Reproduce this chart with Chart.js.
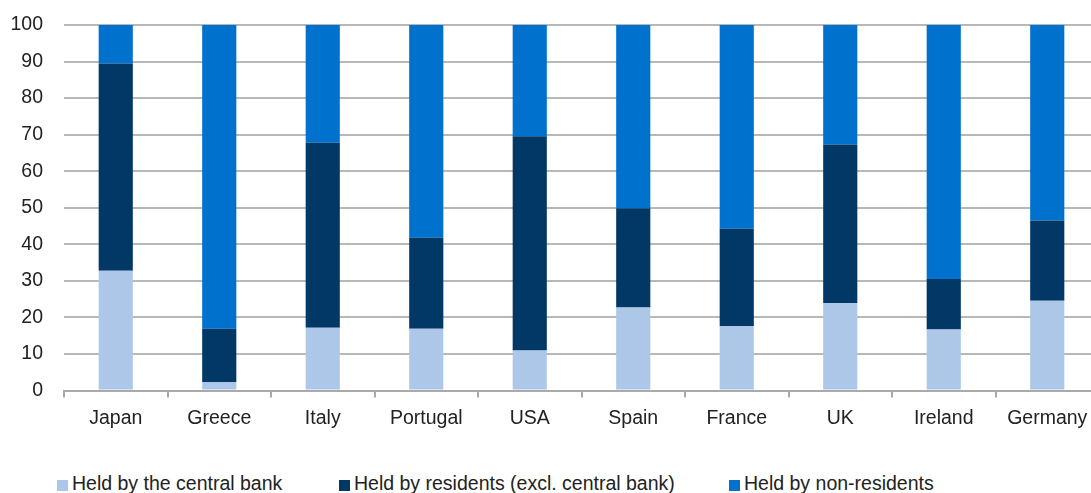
<!DOCTYPE html>
<html>
<head>
<meta charset="utf-8">
<script src="https://cdn.jsdelivr.net/npm/chart.js@4/dist/chart.umd.min.js"></script>
<style>
  html, body { margin: 0; padding: 0; background: #fff; overflow: hidden; }
  #page { position: relative; width: 1091px; height: 493px; overflow: hidden; }
  /* the plot runs a few pixels past the right edge in the original */
  #wrap { position: absolute; left: 0; top: 0; width: 1099px; height: 439px; }
  #legend { position: absolute; left: 0; top: 472px; width: 1091px; height: 22px;
            font-family: "Liberation Sans", Arial, sans-serif; font-size: 19.5px; color: #222; }
  .item { position: absolute; top: 0; white-space: nowrap; line-height: 22px; }
  .box { display: inline-block; width: 11px; height: 11px; margin-right: 4px; vertical-align: -1px; }
</style>
</head>
<body>
<div id="page">
  <div id="wrap"><canvas id="chart"></canvas></div>
  <div id="legend"></div>
</div>
<script>
const countries = ["Japan", "Greece", "Italy", "Portugal", "USA", "Spain", "France", "UK", "Ireland", "Germany"];
const centralBank = [32.8, 2.3, 17.2, 16.9, 11.0, 22.7, 17.7, 23.9, 16.7, 24.6];
const residents = [56.7, 14.6, 50.6, 24.9, 58.6, 27.2, 26.6, 43.4, 13.8, 21.9];
const nonResidents = [10.5, 83.1, 32.2, 58.2, 30.4, 50.1, 55.7, 32.7, 69.5, 53.5];
const yTicks = [0, 10, 20, 30, 40, 50, 60, 70, 80, 90, 100];

const seriesNames = ["Held by the central bank", "Held by residents (excl. central bank)", "Held by non-residents"];
const seriesColors = ["#adc7e9", "#013866", "#0171ce"];
const legendLeft = [57, 339, 729];

const tickFont = { family: "Liberation Sans", size: 19.5 };

const ctx = document.getElementById("chart").getContext("2d");

const chart = new Chart(ctx, {
  type: "bar",
  data: {
    labels: countries,
    datasets: [
      { label: seriesNames[0], data: centralBank, backgroundColor: seriesColors[0] },
      { label: seriesNames[1], data: residents, backgroundColor: seriesColors[1] },
      { label: seriesNames[2], data: nonResidents, backgroundColor: seriesColors[2] }
    ]
  },
  options: {
    responsive: true,
    maintainAspectRatio: false,
    animation: false,
    layout: { padding: { top: 25, right: 0, left: 0, bottom: 0 } },
    datasets: { bar: { categoryPercentage: 1, barPercentage: 0.33 } },
    plugins: {
      tooltip: { enabled: false },
      legend: { display: false }
    },
    scales: {
      x: {
        stacked: true,
        border: { display: true, color: "#aaa", width: 2 },
        grid: { display: true, drawOnChartArea: false, drawTicks: true, tickLength: 7, color: "#aaa", lineWidth: 2 },
        ticks: { color: "#222", font: tickFont, padding: 9, maxRotation: 0 }
      },
      y: {
        stacked: true,
        min: 0,
        max: 100,
        afterBuildTicks: (axis) => { axis.ticks = yTicks.map(v => ({ value: v })); },
        afterFit: (axis) => {
          axis.width = 64;
          axis.paddingTop = 0;
          axis.paddingBottom = 0;
        },
        border: { display: false },
        grid: { color: "#b8b8b8", lineWidth: 2, drawTicks: false },
        ticks: { color: "#222", font: tickFont, padding: 21, autoSkip: false }
      }
    }
  }
});

// HTML legend built from the chart's datasets
const legend = document.getElementById("legend");
chart.data.datasets.forEach((ds, i) => {
  const item = document.createElement("div");
  item.className = "item";
  item.style.left = legendLeft[i] + "px";
  item.innerHTML = `<span class="box" style="background:${ds.backgroundColor}"></span>${ds.label}`;
  legend.appendChild(item);
});
</script>
</body>
</html>
